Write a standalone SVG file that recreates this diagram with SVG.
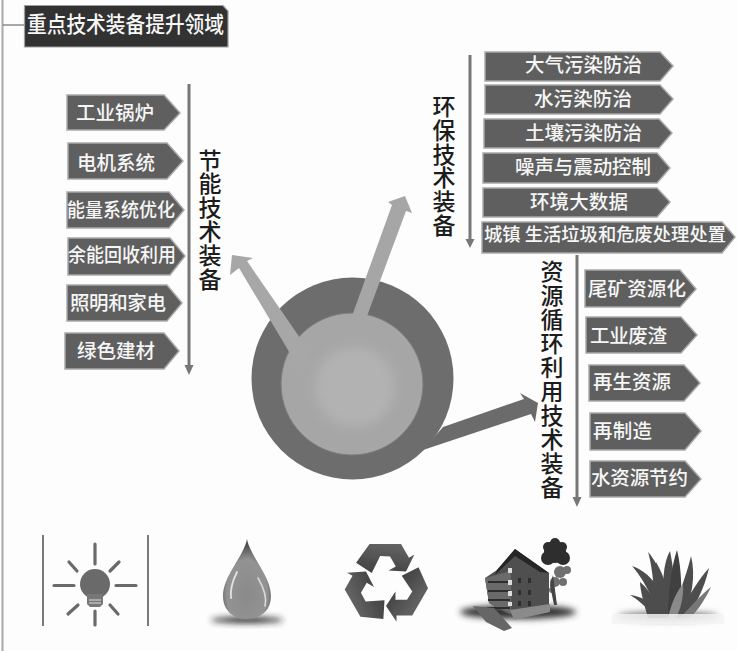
<svg xmlns="http://www.w3.org/2000/svg" width="737" height="651" viewBox="0 0 737 651">
<style>
text{font-family:"Noto Sans CJK SC","Liberation Sans",sans-serif;font-weight:500;}
.box{fill:#5f5f5f;stroke:#a9a9a9;stroke-width:1.5;}
.lb{fill:#f6f6f6;font-size:19.5px;dominant-baseline:central;}
.vt{fill:#1c1c1c;font-size:23px;text-anchor:middle;dominant-baseline:central;}
.ax{stroke:#777;stroke-width:3;fill:none;}
.ah{fill:#777;}
.ray{stroke:#6a6a6a;stroke-width:3.2;stroke-linecap:round;fill:none;}
.bl{fill:#4e4e4e;}
.bd{fill:#2f2f2f;}
</style>
<defs>
<filter id="soft" x="-10%" y="-10%" width="120%" height="120%"><feGaussianBlur stdDeviation="0.6"/></filter>
<filter id="shade" x="-30%" y="-100%" width="160%" height="300%"><feGaussianBlur stdDeviation="3"/></filter>
<filter id="glow" x="-30%" y="-30%" width="160%" height="160%"><feGaussianBlur stdDeviation="6"/></filter>
<radialGradient id="drop" cx="0.5" cy="0.68" r="0.6"><stop offset="0" stop-color="#8a8a8a"/><stop offset="0.7" stop-color="#939393"/><stop offset="1" stop-color="#505050"/></radialGradient>
<linearGradient id="rec" x1="0" y1="0" x2="1" y2="1"><stop offset="0" stop-color="#2e2e2e"/><stop offset="1" stop-color="#777"/></linearGradient>
</defs>
<rect width="737" height="651" fill="#fdfdfd"/>
<g id="frame"><path d="M2.5 0V651" stroke="#a8a8a8" stroke-width="2" fill="none"/><path d="M3 25H25" stroke="#555" stroke-width="1" fill="none"/></g>

<g id="title">
<path d="M24.500 5.500H223L228 11V47H24.500Z" fill="#323232" stroke="#a0a0a0" stroke-width="1.200"/>
<text x="27" y="22" fill="#f7f7f7" font-size="21.900" dominant-baseline="central" textLength="197" lengthAdjust="spacingAndGlyphs">重点技术装备提升领域</text>
</g>

<g id="connectors">
<path class="ax" d="M189 84V368"/><path class="ah" d="M184.500 365H193.500L189 375Z"/>
<path class="ax" d="M470 55V242"/><path class="ah" d="M465.500 239H474.500L470 248Z"/>
<path class="ax" d="M577 255V500"/><path class="ah" d="M572.500 497H581.500L577 507Z"/>
</g>

<g id="hub">
<circle cx="352.500" cy="378.500" r="101" fill="#6d6d6d"/>
<path d="M538 403L535 422L531 414L423 450L443 427L524 399L520 393Z" fill="#6b6b6b"/>
<circle cx="352" cy="384" r="71" fill="#a6a6a6" stroke="#7d7d7d" stroke-width="1"/>
<circle cx="355" cy="387" r="40" fill="#b2b2b2" filter="url(#glow)"/>
<path d="M232 255L253 258L247 261L298 335L316 365L300 372L288 350L239 268L230 275Z" fill="#a7a7a7"/>
<path d="M405 196L412 213L406 211L367 316L352 316L392 205L388 202Z" fill="#a6a6a6"/>
</g>

<g id="jn-label"><text class="vt" x="210" y="159">节</text><text class="vt" x="210" y="182">能</text><text class="vt" x="210" y="206">技</text><text class="vt" x="210" y="230">术</text><text class="vt" x="210" y="254">装</text><text class="vt" x="210" y="278">备</text></g>
<g id="hb-label"><text class="vt" x="444" y="105">环</text><text class="vt" x="444" y="129">保</text><text class="vt" x="444" y="153">技</text><text class="vt" x="444" y="176">术</text><text class="vt" x="444" y="200">装</text><text class="vt" x="444" y="224">备</text></g>
<g id="zy-label"><text class="vt" x="552" y="270">资</text><text class="vt" x="552" y="294">源</text><text class="vt" x="552" y="318">循</text><text class="vt" x="552" y="342">环</text><text class="vt" x="552" y="366">利</text><text class="vt" x="552" y="390">用</text><text class="vt" x="552" y="414">技</text><text class="vt" x="552" y="438">术</text><text class="vt" x="552" y="462">装</text><text class="vt" x="552" y="486">备</text></g>

<g id="n-gylg"><path class="box" d="M67 95H164L180 113L164 130H67Z"/><text class="lb" x="76" y="111" textLength="78">工业锅炉</text></g>
<g id="n-djxt"><path class="box" d="M68 143H167L183 161L167 179H68Z"/><text class="lb" x="77" y="161" textLength="78">电机系统</text></g>
<g id="n-nlxt"><path class="box" d="M67 192H169L184 210L169 228H67Z"/><text class="lb" x="67" y="208" textLength="108" lengthAdjust="spacingAndGlyphs">能量系统优化</text></g>
<g id="n-ynhs"><path class="box" d="M68 238H170L185 256L170 275H68Z"/><text class="lb" x="68" y="253" textLength="108" lengthAdjust="spacingAndGlyphs">余能回收利用</text></g>
<g id="n-zmjd"><path class="box" d="M67 285H167L182 303L167 321H67Z"/><text class="lb" x="70" y="301" textLength="96">照明和家电</text></g>
<g id="n-lsjc"><path class="box" d="M65 333H164L179 351L164 369H65Z"/><text class="lb" x="77" y="349" textLength="78">绿色建材</text></g>

<g id="n-dqwr"><path class="box" d="M485 52H660L673 66L660 81H485Z"/><text class="lb" x="525" y="63" textLength="117">大气污染防治</text></g>
<g id="n-swr"><path class="box" d="M485 85H660L673 99L660 114H485Z"/><text class="lb" x="534" y="97" textLength="98">水污染防治</text></g>
<g id="n-trwr"><path class="box" d="M484 119H659L672 133L659 148H484Z"/><text class="lb" x="525" y="131" textLength="117">土壤污染防治</text></g>
<g id="n-zsyz"><path class="box" d="M483 153H657L670 168L657 183H483Z"/><text class="lb" x="515" y="165" textLength="136">噪声与震动控制</text></g>
<g id="n-hjdsj"><path class="box" d="M483 188H657L670 202L657 217H483Z"/><text class="lb" x="530" y="200" textLength="98">环境大数据</text></g>
<g id="n-czsh"><path class="box" d="M482 222H722L735 237L722 253H482Z"/><text class="lb" x="484" y="233" style="font-size:18.500px" textLength="242" lengthAdjust="spacingAndGlyphs">城镇 生活垃圾和危废处理处置</text></g>

<g id="n-wk"><path class="box" d="M585 270H680L696 289L680 307H585Z"/><text class="lb" x="588" y="287" textLength="98">尾矿资源化</text></g>
<g id="n-gyfz"><path class="box" d="M586 317H681L697 335L681 353H586Z"/><text class="lb" x="590" y="334" textLength="77">工业废渣</text></g>
<g id="n-zszy"><path class="box" d="M589 365H684L700 383L684 401H589Z"/><text class="lb" x="593" y="380" textLength="78">再生资源</text></g>
<g id="n-zzz"><path class="box" d="M590 413H685L701 431L685 450H590Z"/><text class="lb" x="593" y="429" textLength="59">再制造</text></g>
<g id="n-szy"><path class="box" d="M590 461H685L701 479L685 497H590Z"/><text class="lb" x="591" y="476" textLength="97">水资源节约</text></g>

<g id="icon-bulb" filter="url(#soft)">
<path d="M43 535V626M148 535V626" stroke="#7a7a7a" stroke-width="2" fill="none"/>
<path class="ray" d="M95 544V564M95 611V625M54 585.500H74M116 585.500H136M69 562L77 571M110 571L119 562M68 614L78 605M110 605L118 614"/>
<circle cx="95" cy="584" r="15" fill="#6a6a6a"/>
<path d="M87 594H103V604L100 607H90L87 604Z" fill="#777"/>
<path d="M89 600H101M89 603H101" stroke="#ddd" stroke-width="1"/>
</g>

<g id="icon-drop">
<ellipse cx="247" cy="620" rx="36" ry="3" fill="#222" filter="url(#shade)"/>
<path d="M247 539C250 556 271 576 271 596C271 611 260 619 247 619C234 619 223 611 223 596C223 576 244 556 247 539Z" fill="url(#drop)" filter="url(#soft)"/>
<path d="M237 572C232 582 230 590 231 598" stroke="#e2e2e2" stroke-width="1.800" fill="none" stroke-linecap="round"/>
<path d="M258 578C264 588 267 597 265 606" stroke="#d8d8d8" stroke-width="1.600" fill="none" stroke-linecap="round"/>
</g>

<g id="icon-recycle" filter="url(#soft)" transform="translate(386 583) scale(1.050) translate(-386 -585)">
<path fill="url(#rec)" d="M417 570L426 590L411 616H396V622L386 607L395 593V601H406L411 593L401 578Z"/>
<path fill="url(#rec)" transform="rotate(120 386 585)" d="M417 570L426 590L411 616H396V622L386 607L395 593V601H406L411 593L401 578Z"/>
<path fill="url(#rec)" transform="rotate(240 386 585)" d="M417 570L426 590L411 616H396V622L386 607L395 593V601H406L411 593L401 578Z"/>
</g>

<g id="icon-building">
<ellipse cx="518" cy="612" rx="58" ry="7" fill="#333" filter="url(#shade)"/>
<g filter="url(#soft)">
<g class="bd"><circle cx="555" cy="552" r="11"/><circle cx="548" cy="558" r="7"/><circle cx="563" cy="558" r="7"/><circle cx="555" cy="543" r="5"/><circle cx="548" cy="547" r="5"/><circle cx="562" cy="547" r="5"/></g>
<g fill="#6f6f6f"><circle cx="560" cy="572" r="6"/><circle cx="567" cy="570" r="4"/><circle cx="555" cy="582" r="5"/><circle cx="563" cy="582" r="4"/><circle cx="552" cy="590" r="3"/></g>
<path d="M553 575L557 605H554L550 585Z" fill="#444"/>
<path d="M485 578L497 570L515 549L549 573V607L514 618L489 603Z" fill="#505050"/>
<path d="M497 570L515 549L549 573L540 572L515 556L495 575Z" fill="#262626"/>
<path d="M485 578L511 571V614L489 603Z" fill="#6b6b6b"/>
<path d="M488 582H510M488 591H510M488 600H510M487 608H510" stroke="#2e2e2e" stroke-width="2" fill="none"/>
<path d="M508 568h4v5h-4zM508 580h4v5h-4zM508 591h4v5h-4zM508 602h4v4h-4z" fill="#ddd"/>
<path d="M518 578h3v5h-3zM528 578h3v5h-3zM518 590h3v5h-3zM528 590h3v5h-3zM518 601h3v5h-3zM528 601h3v5h-3z" fill="#2e2e2e"/>
<path d="M473 606L494 608L512 628L504 631L486 622Z" fill="#666"/>
<path d="M510 610L550 604V612L514 620Z" fill="#8a8a8a"/>
</g>
</g>

<g id="icon-grass">
<ellipse cx="668" cy="616" rx="50" ry="5" fill="#888" filter="url(#shade)"/>
<g filter="url(#soft)">
<path class="bl" d="M660 618C650 590 640 575 632 566C650 572 664 590 668 618Z"/>
<path class="bl" d="M655 618C655 590 652 565 648 552C660 565 668 590 668 618Z"/>
<path class="bl" d="M662 618C655 595 652 575 656 562C664 575 670 595 672 618Z"/>
<path class="bl" d="M665 618C662 590 662 565 670 551C674 570 676 595 675 618Z"/>
<path d="M668 618C668 590 672 565 677 550C682 570 682 595 680 618Z" fill="#3f3f3f"/>
<path class="bl" d="M672 618C680 590 688 570 691 556C696 575 692 600 682 618Z"/>
<path class="bl" d="M678 618C688 595 700 578 709 568C704 590 694 608 686 618Z"/>
<path d="M680 618C692 605 702 594 711 587C704 602 696 612 690 618Z" fill="#777"/>
<path class="bl" d="M655 618C648 608 636 598 630 595C642 596 658 606 664 618Z"/>
<path class="bl" d="M648 618C644 604 640 590 640 582C650 590 658 605 660 618Z"/>
<path d="M668 618C672 600 678 590 683 584C684 598 680 610 676 618Z" fill="#8a8a8a"/>
</g>
<rect x="612" y="614" width="112" height="10" fill="#f4f4f4" opacity="0.850" filter="url(#soft)"/>
</g>
</svg>
